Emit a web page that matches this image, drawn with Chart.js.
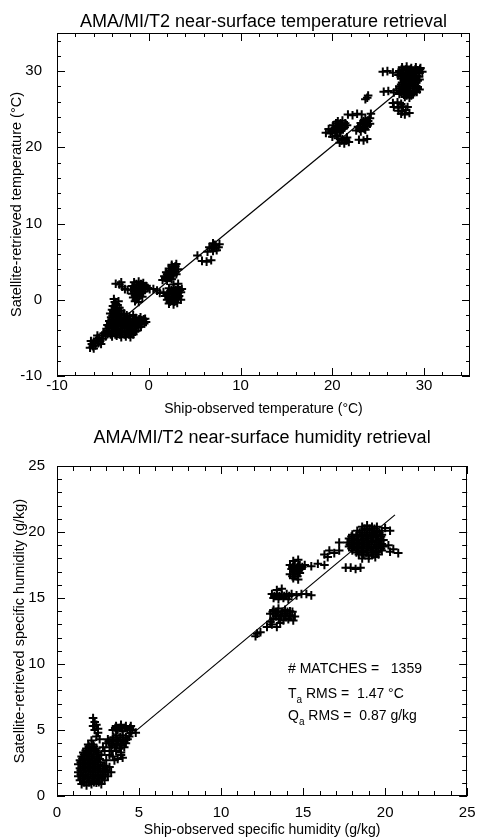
<!DOCTYPE html>
<html>
<head>
<meta charset="utf-8">
<script src="https://cdn.jsdelivr.net/npm/chart.js@4"></script>
<style>
  body { margin: 0; background: #fff; }
  canvas { display: block; }
</style>
</head>
<body>
<canvas id="tempChart" width="477" height="419"></canvas>
<canvas id="humChart" width="477" height="419"></canvas>
<script>
// ---- data ----
// temperature matchups: [ship, satellite] in deg C
const tempColdPts = [
  // cold tail
  [-6.4,-6.3],[-6.2,-5.8],[-6.0,-6.4],[-6.0,-5.5],[-5.8,-6.0],[-5.7,-5.3],[-5.5,-5.7],[-5.4,-5.0],
  [-5.3,-5.4],[-5.1,-4.7],[-5.0,-5.1],[-4.9,-4.4],[-4.7,-4.8],[-4.6,-4.1],[-4.5,-4.5],[-5.6,-4.7],
  [-6.3,-5.4],[-5.2,-5.8],[-6.1,-6.1],[-5.6,-5.1],
  // main blob
  [-4.0,-4.8],[-3.5,-4.7],[-3.0,-4.9],[-2.5,-4.8],[-2.0,-4.9],
  [-4.15,-4.55],[-3.65,-4.55],[-3.15,-4.55],[-2.65,-4.55],[-2.15,-4.55],[-1.7,-4.55],
  [-4.4,-4.3],[-3.9,-4.2],[-3.4,-4.4],[-2.9,-4.3],[-2.4,-4.2],[-1.9,-4.4],[-1.5,-4.2],
  [-4.35,-4.05],[-3.85,-4.05],[-3.35,-4.05],[-2.85,-4.05],[-2.35,-4.05],[-1.85,-4.05],[-1.35,-4.05],
  [-4.6,-3.8],[-4.1,-3.7],[-3.6,-3.9],[-3.1,-3.8],[-2.6,-3.7],[-2.1,-3.9],[-1.6,-3.8],[-1.1,-3.6],
  [-4.35,-3.55],[-3.85,-3.55],[-3.35,-3.55],[-2.85,-3.55],[-2.35,-3.55],[-1.85,-3.55],[-1.35,-3.55],[-0.85,-3.55],
  [-4.5,-3.3],[-4.0,-3.2],[-3.5,-3.4],[-3.0,-3.3],[-2.5,-3.2],[-2.0,-3.4],[-1.5,-3.3],[-1.0,-3.2],[-0.5,-3.1],
  [-4.2,-3.05],[-3.75,-3.05],[-3.25,-3.05],[-2.75,-3.05],[-2.25,-3.05],[-1.75,-3.05],[-1.25,-3.05],[-0.75,-3.05],
  [-4.3,-2.8],[-3.8,-2.7],[-3.3,-2.9],[-2.8,-2.8],[-2.3,-2.7],[-1.8,-2.9],[-1.3,-2.8],[-0.8,-2.7],[-0.3,-2.9],
  [-4.05,-2.55],[-3.55,-2.55],[-3.05,-2.55],[-2.55,-2.55],[-2.05,-2.55],[-1.55,-2.55],[-1.05,-2.55],[-0.55,-2.55],
  [-4.1,-2.3],[-3.6,-2.2],[-3.1,-2.4],[-2.6,-2.3],[-2.1,-2.2],[-1.4,-2.4],[-0.9,-2.3],[-0.4,-2.5],
  [-3.95,-2.05],[-3.45,-2.05],[-2.95,-2.05],[-2.4,-2.05],
  [-4.2,-1.8],[-3.7,-1.7],[-3.2,-1.9],[-2.7,-1.8],[-1.7,-2.0],
  [-3.85,-1.55],[-3.35,-1.55],
  [-4.0,-1.3],[-3.5,-1.2],[-3.0,-1.4],
  [-3.7,-1.05],[-3.2,-1.05],
  [-3.9,-0.8],[-3.4,-0.7],[-3.6,-0.55],[-3.7,-0.3],[-3.3,-0.2],[-3.8,0.1],
  // "+" arm to the upper left
  [-3.6,2.1],[-3.2,2.0],[-2.9,1.7],[-2.6,1.4],[-2.3,1.3],[-3.0,2.3],
  // middle blob
  [-1.6,2.3],[-1.1,2.4],[-0.6,2.2],
  [-1.35,2.05],[-0.85,2.05],
  [-1.8,1.8],[-1.3,1.9],[-0.8,1.7],[-0.3,1.8],
  [-1.6,1.55],[-1.1,1.55],[-0.6,1.55],[-0.1,1.55],
  [-1.9,1.3],[-1.4,1.2],[-0.9,1.4],[-0.4,1.3],[0.1,1.4],
  [-1.6,1.05],[-1.1,1.05],[-0.6,1.05],
  [-1.8,0.8],[-1.3,0.7],[-0.8,0.9],
  [-1.5,0.55],[-1.0,0.55],
  [-1.7,0.3],[-1.2,0.2],[-0.7,0.4],
  [-1.4,0.05],
  [-1.5,-0.2],[-1.1,-0.3],
  [0.5,1.4],[0.9,1.2],[1.2,0.9]
];
const tempMildPts = [
  // right lobe
  [2.7,2.0],[3.2,2.1],
  [2.2,1.5],[2.7,1.4],[3.2,1.6],[3.6,1.4],
  [2.45,1.25],[2.95,1.25],[3.4,1.25],
  [1.6,1.0],[2.1,0.9],[2.6,1.1],[3.1,0.9],[3.5,1.0],
  [2.0,0.75],[2.5,0.75],[3.0,0.75],
  [1.8,0.5],[2.3,0.4],[2.8,0.6],[3.3,0.5],
  [2.2,0.25],[2.7,0.25],[3.2,0.25],
  [2.0,0.0],[2.5,-0.1],[3.0,0.1],[3.5,0.0],
  [2.3,-0.25],[2.8,-0.25],
  [2.2,-0.5],[2.7,-0.6],[3.1,-0.4],
  // upper lobe
  [2.5,4.6],[3.0,4.7],[2.5,4.4],[2.9,4.4],
  [2.2,4.1],[2.7,4.2],[3.2,4.0],
  [2.2,3.85],[2.7,3.85],
  [1.9,3.6],[2.4,3.5],[2.9,3.7],
  [2.0,3.35],[2.5,3.35],[3.0,3.35],
  [1.7,3.1],[2.2,3.0],[2.7,3.2],
  [1.8,2.85],[2.3,2.85],
  [1.5,2.6],[2.0,2.5],[2.5,2.7],
  // 5-8 C group
  [5.3,5.8],[5.8,5.1],[6.3,5.0],[6.8,5.2],[6.4,6.3],[6.8,6.8],[7.2,7.2],[7.6,6.9],[7.0,6.4],
  [7.4,6.5],[6.6,6.9],[7.0,7.4],[7.7,7.3],[7.2,6.8]
];
const tempWarmPts = [
  // 19-22 C blobs
  [20.6,23.4],[21.1,23.5],
  [20.4,23.15],[20.9,23.15],[21.4,23.15],
  [20.1,22.9],[20.6,22.8],[21.1,23.0],[21.6,22.9],
  [20.35,22.65],[20.85,22.65],[21.35,22.65],
  [19.6,22.4],[20.1,22.3],[20.6,22.5],[21.1,22.4],
  [19.9,22.15],[20.4,22.15],[20.9,22.15],
  [19.3,21.9],[19.8,21.8],[20.3,22.0],[20.8,21.9],
  [20.0,21.4],[20.5,21.5],
  [20.6,21.2],[21.1,21.1],[21.6,21.3],
  [21.0,20.9],[21.5,20.9],
  [20.8,20.6],[21.3,20.5],[21.8,20.7],
  [21.7,24.3],[22.2,24.2],[22.7,24.4],[23.2,24.3],
  // 22-24 C blobs
  [23.6,23.7],[24.1,23.8],
  [23.4,23.45],[23.9,23.45],
  [23.1,23.2],[23.6,23.3],[24.1,23.1],
  [23.35,22.95],[23.85,22.95],
  [22.8,22.7],[23.3,22.6],[23.8,22.8],
  [23.0,22.45],[23.5,22.45],
  [22.6,22.2],[23.1,22.1],[23.6,22.3],
  [22.9,21.0],[23.4,20.9],[23.8,21.1],
  [23.6,26.3],[23.9,26.8],[23.8,26.5],[24.2,24.4],
  // 25-30 C cluster
  [25.5,29.9],[26.0,30.0],[26.6,29.8],[25.6,27.3],[26.1,27.4],[26.7,27.2],
  [27.6,30.5],[28.1,30.6],[28.6,30.4],[29.1,30.5],[29.6,30.4],
  [27.55,30.25],[28.05,30.25],[28.55,30.25],[29.05,30.25],[29.55,30.25],
  [27.3,30.0],[27.8,30.1],[28.3,29.9],[28.8,30.0],[29.3,30.1],[29.8,29.9],
  [27.5,29.75],[28.0,29.75],[28.5,29.75],[29.0,29.75],[29.5,29.75],
  [27.2,29.5],[27.7,29.4],[28.2,29.6],[28.7,29.5],[29.2,29.4],
  [27.45,29.25],[27.95,29.25],[28.45,29.25],[28.95,29.25],[29.45,29.25],
  [27.5,29.0],[28.0,28.9],[28.5,29.1],[29.0,29.0],[29.5,28.9],
  [27.8,28.75],[28.3,28.75],[28.8,28.75],[29.3,28.75],
  [27.6,28.5],[28.1,28.4],[28.6,28.6],[29.1,28.5],
  [27.5,28.25],[28.0,28.25],[28.5,28.25],[29.0,28.25],
  [27.3,28.0],[27.8,27.9],[28.3,28.1],[28.8,28.0],[29.3,27.9],
  [27.3,27.75],[27.8,27.75],[28.3,27.75],[28.8,27.75],[29.3,27.75],
  [27.0,27.5],[27.5,27.4],[28.0,27.6],[28.5,27.5],[29.0,27.4],[29.5,27.6],
  [27.5,27.25],[28.0,27.25],[28.5,27.25],[29.2,27.25],
  [27.3,27.0],[27.8,26.9],[28.3,27.1],[28.8,27.0],
  [28.1,26.8],[28.6,26.8],
  [27.9,26.6],[28.4,26.5],
  [26.6,25.8],[27.1,25.9],[27.5,25.7],
  [26.7,25.3],[27.2,25.2],[27.7,25.4],[28.2,25.3],
  [27.2,24.8],[27.6,24.7],[28.0,24.9],
  [27.5,24.4],[27.9,24.3],[28.4,24.5]
];
const tempFitX = [-4.0, 28.8];
const tempFitY = [-3.6, 28.9];

// humidity matchups: [ship, satellite] in g/kg
const humDryPts = [
  // main blob
  [1.5,0.9],[1.8,0.8],[2.1,0.9],[2.4,1.0],[2.7,0.9],
  [1.65,1.05],[1.95,1.05],[2.25,1.05],[2.55,1.05],
  [1.4,1.2],[1.7,1.3],[2.0,1.2],[2.3,1.2],[2.6,1.3],[2.9,1.2],
  [1.55,1.35],[1.85,1.35],[2.15,1.35],[2.45,1.35],[2.75,1.35],
  [1.3,1.5],[1.6,1.6],[1.9,1.5],[2.2,1.5],[2.5,1.6],[2.8,1.5],[3.1,1.5],
  [1.45,1.65],[1.75,1.65],[2.05,1.65],[2.35,1.65],[2.65,1.65],[2.95,1.65],
  [1.3,1.8],[1.6,1.8],[1.9,1.9],[2.2,1.8],[2.5,1.8],[2.8,1.9],[3.1,1.8],
  [1.45,1.95],[1.75,1.95],[2.05,1.95],[2.35,1.95],[2.65,1.95],[2.95,1.95],
  [1.4,2.1],[1.7,2.1],[2.0,2.2],[2.3,2.1],[2.6,2.1],[3.0,2.2],
  [1.55,2.25],[1.85,2.25],[2.15,2.25],[2.45,2.25],[2.8,2.25],
  [1.3,2.4],[1.6,2.4],[1.9,2.5],[2.2,2.4],[2.5,2.4],[2.9,2.3],
  [1.45,2.55],[1.75,2.55],[2.05,2.55],[2.35,2.55],[2.65,2.55],
  [1.4,2.7],[1.7,2.8],[2.0,2.7],[2.3,2.7],[2.6,2.8],
  [1.55,2.85],[1.85,2.85],[2.15,2.85],[2.45,2.85],
  [1.5,3.0],[1.8,3.1],[2.1,3.0],[2.4,3.0],[2.7,3.1],
  [1.65,3.15],[1.95,3.15],[2.25,3.15],[2.55,3.15],
  [1.6,3.3],[1.9,3.3],[2.2,3.4],[2.5,3.3],
  [1.75,3.45],[2.05,3.45],[2.35,3.45],
  [1.8,3.6],[2.1,3.7],[2.4,3.6],
  [1.95,3.75],[2.25,3.75],
  [1.9,3.9],[2.2,3.9],[2.1,4.2],
  // narrow arm
  [2.2,5.9],[2.3,5.6],[2.2,5.3],[2.4,5.4],[2.3,5.0],[2.5,4.8],[2.4,4.5],[2.6,4.3],[2.5,5.1],
  // middle blob
  [3.6,4.6],[4.0,4.6],[4.4,4.5],
  [3.45,4.45],[3.85,4.45],[4.2,4.45],
  [3.1,4.3],[3.4,4.3],[3.7,4.2],[4.0,4.3],[4.3,4.3],
  [3.15,4.15],[3.45,4.15],[3.75,4.15],[4.05,4.15],
  [3.0,4.0],[3.3,4.0],[3.6,3.9],[3.9,4.0],[4.2,4.0],
  [3.35,3.85],[3.65,3.85],[3.95,3.85],
  [3.2,3.7],[3.5,3.7],[3.8,3.6],[4.1,3.7],
  [3.3,3.4],[3.6,3.4],[3.9,3.3],
  // upper right blob
  [3.6,5.3],[3.9,5.4],[4.2,5.3],[4.5,5.3],
  [3.55,5.15],[3.85,5.15],[4.15,5.15],[4.45,5.15],
  [3.4,5.0],[3.7,5.0],[4.0,4.9],[4.3,5.0],[4.6,5.0],
  [4.5,4.8],[4.8,4.8],
  // lower right bits
  [3.4,3.0],[3.7,2.8],[3.9,3.1],[3.5,2.7],[4.0,2.9],
  [3.0,2.7],[3.2,3.1],[2.9,3.4],[2.8,3.7],[3.2,2.2],[3.3,1.8]
];
const humMoistPts = [
  [12.1,12.1],[12.4,12.4],[12.2,12.3],
  [12.8,12.8],[13.1,13.0],[13.4,12.8],[13.6,13.1],[13.0,13.2],
  [13.2,14.1],[13.5,14.2],[13.9,14.1],[14.2,14.0],
  [13.15,13.95],[13.45,13.95],[13.75,13.95],[14.05,13.95],[14.35,13.95],
  [13.0,13.8],[13.3,13.8],[13.6,13.7],[13.9,13.8],[14.2,13.7],[14.5,13.6],
  [13.35,13.6],[13.65,13.6],[13.95,13.6],[14.25,13.6],
  [13.2,13.4],[13.5,13.4],[13.8,13.3],[14.1,13.4],[14.4,13.3],
  [13.4,15.6],[13.7,15.7],
  [13.1,15.3],[13.4,15.3],[13.7,15.2],[14.0,15.3],[14.3,15.3],[14.6,15.2],[14.9,15.3],[15.2,15.3],[15.5,15.2],
  [13.25,15.15],[13.55,15.15],[13.85,15.15],[14.15,15.15],
  [13.2,15.0],[13.5,14.9],[13.8,15.0],[14.1,14.9],
  [14.4,17.8],[14.7,17.9],
  [14.2,17.5],[14.5,17.4],[14.8,17.5],[15.1,17.5],
  [14.35,17.35],[14.65,17.35],[14.95,17.35],
  [14.3,17.2],[14.6,17.1],[14.9,17.2],
  [14.4,17.0],[14.7,17.0],
  [14.2,16.8],[14.5,16.8],[14.8,16.9],
  [14.35,16.65],[14.65,16.65],
  [14.4,16.5],[14.7,16.4],
  [15.5,17.4],[15.9,17.6],[16.3,17.5],
  [16.3,18.3],[16.6,18.6],[16.9,18.4],[17.2,18.6],[16.5,18.1],[17.2,19.2],
  [17.6,17.3],[17.9,17.3],[18.2,17.2],[18.5,17.3],
  [18.6,20.4],[18.9,20.5],[19.2,20.4],[19.5,20.4],
  [18.75,20.25],[19.05,20.25],[19.35,20.25],
  [18.3,20.1],[18.6,20.1],[18.9,20.2],[19.2,20.1],[19.5,20.0],[19.8,20.1],
  [18.45,19.95],[18.75,19.95],[19.05,19.95],[19.35,19.95],[19.65,19.95],
  [18.0,19.8],[18.3,19.8],[18.6,19.7],[18.9,19.8],[19.2,19.8],[19.5,19.7],[19.8,19.8],
  [17.95,19.65],[18.25,19.65],[18.55,19.65],[18.85,19.65],[19.15,19.65],[19.45,19.65],[19.75,19.65],
  [17.8,19.5],[18.1,19.5],[18.4,19.4],[18.7,19.5],[19.0,19.5],[19.3,19.6],[19.6,19.5],[19.9,19.4],
  [17.95,19.35],[18.25,19.35],[18.55,19.35],[18.85,19.35],[19.15,19.35],[19.45,19.35],[19.75,19.35],
  [17.7,19.2],[18.0,19.2],[18.3,19.1],[18.6,19.2],[18.9,19.2],[19.2,19.3],[19.5,19.2],[19.8,19.1],
  [17.85,19.05],[18.15,19.05],[18.45,19.05],[18.75,19.05],[19.05,19.05],[19.35,19.05],[19.65,19.05],
  [17.8,18.9],[18.1,18.9],[18.4,18.8],[18.7,18.9],[19.0,18.9],[19.3,18.8],[19.6,18.9],[19.9,18.9],
  [17.95,18.75],[18.25,18.75],[18.55,18.75],[18.85,18.75],[19.15,18.75],[19.45,18.75],[19.75,18.75],
  [18.0,18.6],[18.3,18.6],[18.6,18.5],[18.9,18.6],[19.2,18.6],[19.5,18.5],[19.8,18.6],
  [18.25,18.45],[18.55,18.45],[18.85,18.45],[19.15,18.45],[19.45,18.45],
  [18.4,18.3],[18.7,18.3],[19.0,18.2],[19.3,18.3],[19.6,18.3],
  [18.6,18.0],[19.0,18.0],[19.4,18.1],
  [20.2,19.0],[20.5,18.7],[20.8,18.4],[20.3,18.5],
  [20.0,20.3],[20.3,20.1]
];
const humFitX = [4.0, 20.6];
const humFitY = [4.1, 21.3];

// axis ticks
const tempMajorTicks = [-10, 0, 10, 20, 30];
const tempMinorTicks = [-8,-6,-4,-2,2,4,6,8,12,14,16,18,22,24,26,28,32,34];
const humMajorTicks = [0, 5, 10, 15, 20, 25];
const humMinorTicks = [1,2,3,4,6,7,8,9,11,12,13,14,16,17,18,19,21,22,23,24];

const statLines = [
  [{t: '# MATCHES =   1359'}],
  [{t: 'T'}, {t: 'a', sub: true}, {t: ' RMS =  1.47 \u00B0C'}],
  [{t: 'Q'}, {t: 'a', sub: true}, {t: ' RMS =  0.87 g/kg'}]
];

const labelFamily = '"Liberation Sans", Arial, sans-serif';
const tickSize = 15;
const labelSize = 14.5;

const toXY = pts => pts.map(([x, y]) => ({x, y}));
const fitLine = (xs, ys) => xs.map((x, i) => ({x, y: ys[i]}));

// frame + inward IDL-style ticks on all four sides, plus the stats text
const frameTicks = {
  id: 'frameTicks',
  afterDatasetsDraw(chart, args, o) {
    const {ctx, chartArea: a, scales: {x, y}} = chart;
    ctx.save();
    ctx.strokeStyle = '#000';
    ctx.lineWidth = 1;
    ctx.strokeRect(Math.round(a.left) + 0.5, Math.round(a.top) + 0.5,
      Math.round(a.right - a.left) - 1, Math.round(a.bottom - a.top) - 1);
    ctx.beginPath();
    const xt = (vals, len) => vals.forEach(v => {
      const px = Math.round(x.getPixelForValue(v)) + 0.5;
      ctx.moveTo(px, a.bottom); ctx.lineTo(px, a.bottom - len);
      ctx.moveTo(px, a.top); ctx.lineTo(px, a.top + len);
    });
    const yt = (vals, len) => vals.forEach(v => {
      const py = Math.round(y.getPixelForValue(v)) + 0.5;
      ctx.moveTo(a.left, py); ctx.lineTo(a.left + len, py);
      ctx.moveTo(a.right, py); ctx.lineTo(a.right - len, py);
    });
    xt(o.major, o.majorLen); xt(o.minor, o.minorLen);
    yt(o.major, o.majorLen); yt(o.minor, o.minorLen);
    ctx.stroke();

    if (o.notes) {
      ctx.fillStyle = '#000';
      ctx.textBaseline = 'alphabetic';
      o.notes.forEach((parts, i) => {
        let px = a.left + o.notesX;
        const py = a.top + o.notesY[i];
        parts.forEach(p => {
          ctx.font = p.sub ? `10px ${labelFamily}` : `14px ${labelFamily}`;
          ctx.fillText(p.t, px, py + (p.sub ? 5 : 0));
          px += ctx.measureText(p.t).width;
        });
      });
    }
    ctx.restore();
  }
};

function makeChart(id, cfg) {
  const scatterSet = {
    data: toXY(cfg.points),
    pointStyle: 'cross',
    pointRadius: 4.3,
    pointHoverRadius: 4.3,
    borderColor: '#000',
    backgroundColor: '#000',
    borderWidth: 2
  };
  const lineSet = {
    type: 'line',
    data: fitLine(cfg.fitX, cfg.fitY),
    borderColor: '#000',
    borderWidth: 1.2,
    pointRadius: 0,
    fill: false
  };
  return new Chart(document.getElementById(id), {
    type: 'scatter',
    data: {datasets: [lineSet, scatterSet]},
    plugins: [frameTicks],
    options: {
      responsive: false,
      animation: false,
      layout: {padding: {left: 0, right: cfg.padRight, top: 0, bottom: 0}},
      plugins: {
        legend: {display: false},
        tooltip: {enabled: false},
        title: {
          display: true,
          text: cfg.title,
          fullSize: false,
          color: '#000',
          font: {family: labelFamily, size: 18, weight: 'normal', lineHeight: 1.2},
          padding: cfg.titlePad
        },
        frameTicks: {
          major: cfg.major, minor: cfg.minor,
          majorLen: cfg.majorLen, minorLen: cfg.minorLen,
          notes: cfg.notes, notesX: 231, notesY: [207, 232, 254]
        }
      },
      scales: {
        x: {
          type: 'linear',
          min: cfg.xMin, max: cfg.xMax,
          grid: {display: false},
          border: {display: false},
          afterFit: s => { s.height = cfg.xAxisH; },
          ticks: {
            stepSize: cfg.step, includeBounds: false, color: '#000',
            font: {family: labelFamily, size: tickSize, lineHeight: 1},
            padding: cfg.xTickPad, maxRotation: 0
          },
          title: {
            display: true, text: cfg.xTitle, color: '#000',
            font: {family: labelFamily, size: 14, lineHeight: 1},
            padding: {top: 0, bottom: cfg.xTitlePad}
          }
        },
        y: {
          type: 'linear',
          min: cfg.yMin, max: cfg.yMax,
          grid: {display: false},
          border: {display: false},
          afterFit: s => { s.width = 57; },
          ticks: {
            stepSize: cfg.step, includeBounds: false, color: '#000',
            font: {family: labelFamily, size: tickSize, lineHeight: 1},
            padding: cfg.yTickPad
          },
          title: {
            display: true, text: cfg.yTitle, color: '#000',
            font: {family: labelFamily, size: labelSize, lineHeight: 1},
            padding: {top: cfg.yTitlePad, bottom: 0}
          }
        }
      }
    }
  });
}

makeChart('tempChart', {
  title: 'AMA/MI/T2 near-surface temperature retrieval',
  xTitle: 'Ship-observed temperature (\u00B0C)',
  yTitle: 'Satellite-retrieved temperature (\u00B0C)',
  points: [...tempColdPts, ...tempMildPts, ...tempWarmPts],
  fitX: tempFitX, fitY: tempFitY,
  xMin: -10, xMax: 35, yMin: -10, yMax: 35, step: 10,
  major: tempMajorTicks, minor: tempMinorTicks, majorLen: 8, minorLen: 4,
  padRight: 7, titlePad: {top: 11, bottom: 0.4},
  xAxisH: 43, xTickPad: -6, xTitlePad: 2.5,
  yTickPad: 7, yTitlePad: 10
});

makeChart('humChart', {
  title: 'AMA/MI/T2 near-surface humidity retrieval',
  xTitle: 'Ship-observed specific humidity (g/kg)',
  yTitle: 'Satellite-retrieved specific humidity (g/kg)',
  points: [...humDryPts, ...humMoistPts],
  fitX: humFitX, fitY: humFitY,
  xMin: 0, xMax: 25, yMin: 0, yMax: 25, step: 5,
  major: humMajorTicks, minor: humMinorTicks, majorLen: 8, minorLen: 5,
  padRight: 8, titlePad: {top: 8.7, bottom: 16.7},
  xAxisH: 42, xTickPad: 1.5, xTitlePad: 0.5,
  yTickPad: 4, yTitlePad: 13,
  notes: statLines
});
</script>
</body>
</html>
